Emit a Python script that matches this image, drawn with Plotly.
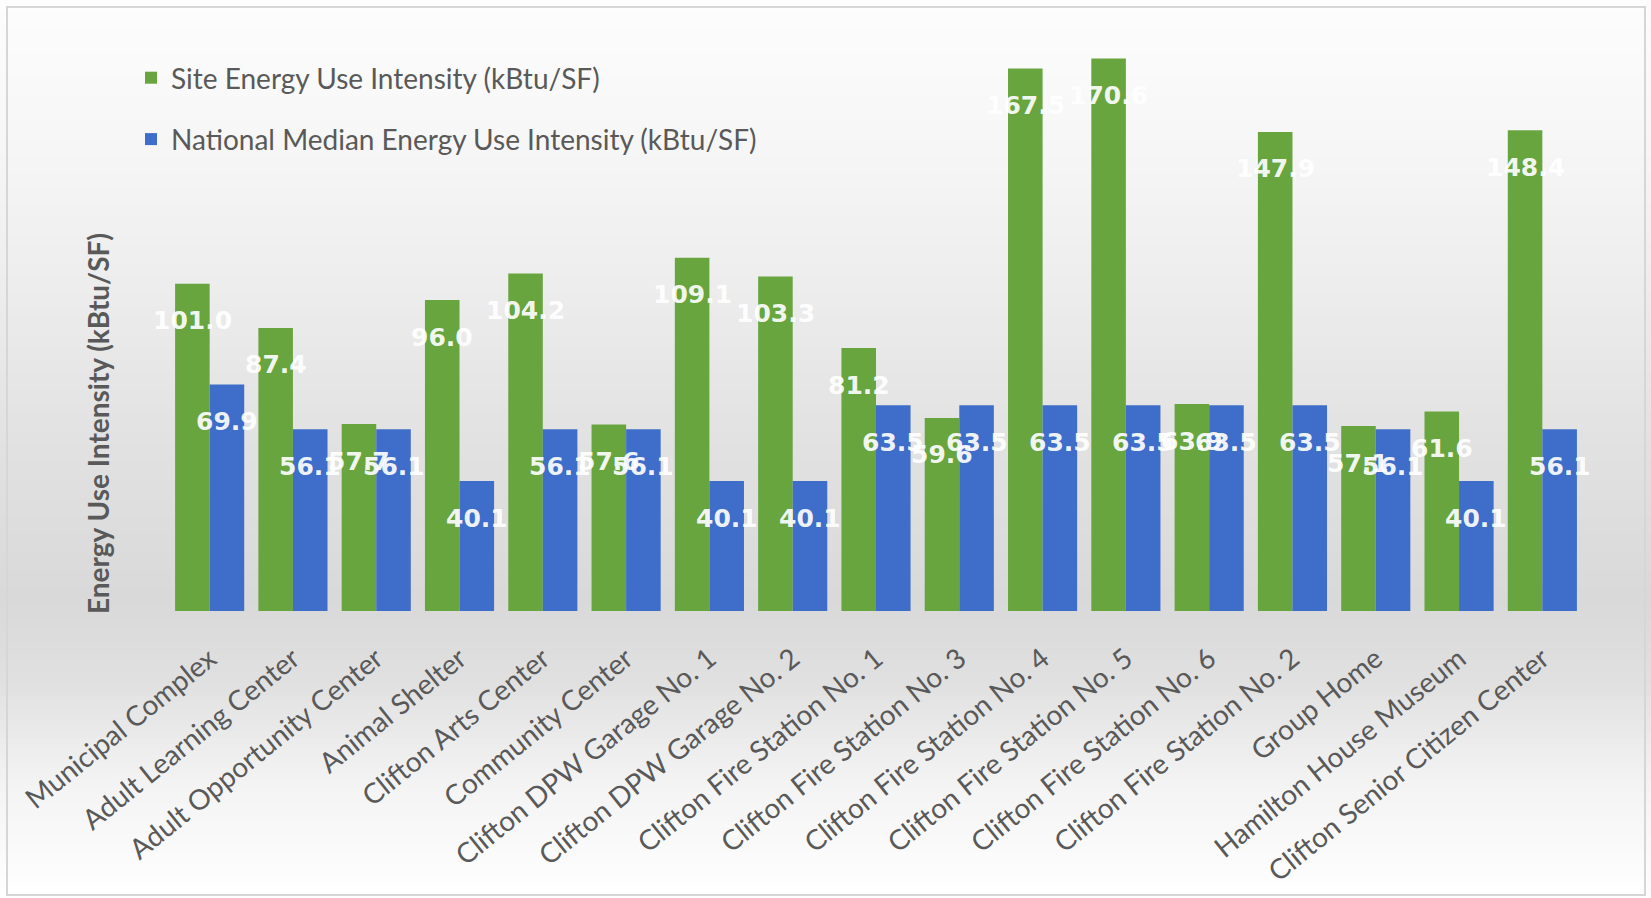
import plotly.graph_objects as go
import numpy as np

categories = [
    "Municipal Complex", "Adult Learning Center", "Adult Opportunity Center",
    "Animal Shelter", "Clifton Arts Center", "Community Center",
    "Clifton DPW Garage No. 1", "Clifton DPW Garage No. 2",
    "Clifton Fire Station No. 1", "Clifton Fire Station No. 3",
    "Clifton Fire Station No. 4", "Clifton Fire Station No. 5",
    "Clifton Fire Station No. 6", "Clifton Fire Station No. 2",
    "Group Home", "Hamilton House Museum", "Clifton Senior Citizen Center",
]
site_eui = [101.0, 87.4, 57.7, 96.0, 104.2, 57.6, 109.1, 103.3, 81.2, 59.6,
            167.5, 170.6, 63.9, 147.9, 57.1, 61.6, 148.4]
national_eui = [69.9, 56.1, 56.1, 40.1, 56.1, 56.1, 40.1, 40.1, 63.5, 63.5,
                63.5, 63.5, 63.5, 63.5, 56.1, 40.1, 56.1]

series_names = ["Site Energy Use Intensity (kBtu/SF)",
                "National Median Energy Use Intensity (kBtu/SF)"]
series_colors = ["#69A53F", "#3E6ECA"]

W, H = 1651, 898
L, R, T, B = 168, 1584, 28, 611


def px_x(p):
    return (p - L) / (R - L)


def px_y(p):
    return (B - p) / (B - T)


x = np.arange(len(categories))
bw = 0.415

fig = go.Figure()
for k, (vals, name, col) in enumerate(zip([site_eui, national_eui], series_names, series_colors)):
    fig.add_trace(go.Bar(
        x=x, y=vals, name=name, marker=dict(color=col, line=dict(width=0)),
        width=bw, offset=-bw if k == 0 else 0, legendgroup=f"g{k}",
        hoverinfo="x+y",
    ))

annotations = []
for k, vals in enumerate([site_eui, national_eui]):
    for i, v in enumerate(vals):
        annotations.append(dict(
            x=i + (-bw / 2 if k == 0 else bw / 2), y=v, xref="x", yref="y",
            text=f"{v:.1f}", showarrow=False, yanchor="middle", xanchor="center",
            yshift=-37,
            font=dict(family="DejaVu Sans", size=25, color="rgba(255,255,255,0.93)", weight="bold"),
        ))

annotations.append(dict(
    x=px_x(98), y=px_y(424), xref="paper", yref="paper",
    text="Energy Use Intensity (kBtu/SF)", textangle=-90, showarrow=False,
    xanchor="center", yanchor="middle",
    font=dict(family="Lato", size=28, color="#595959", weight="bold"),
))

# background gradient stripes
stops_py = [0, 150, 300, 450, 600, 680, 780, 898]
stops_val = [253, 246, 236, 225, 217, 224, 243, 255]
shapes = []
step = 6
for y0 in range(0, H, step):
    g = int(round(np.interp(y0 + step / 2, stops_py, stops_val)))
    shapes.append(dict(
        type="rect", xref="paper", yref="paper",
        x0=px_x(0), x1=px_x(W), y0=px_y(y0 + step + 0.5), y1=px_y(y0),
        fillcolor=f"rgb({g},{g},{g})", line=dict(width=0), layer="below",
    ))
shapes.append(dict(
    type="rect", xref="paper", yref="paper",
    x0=px_x(7), x1=px_x(1645), y0=px_y(895), y1=px_y(7),
    fillcolor="rgba(0,0,0,0)", line=dict(width=2, color="#d6d6d6"), layer="above",
))

fig.update_layout(
    width=W, height=H,
    margin=dict(l=L, r=W - R, t=T, b=H - B, pad=0),
    paper_bgcolor="white", plot_bgcolor="rgba(0,0,0,0)",
    barmode="overlay",
    showlegend=True,
    legend=dict(
        x=px_x(131), y=px_y(53), xanchor="left", yanchor="top",
        font=dict(family="Lato", size=28, color="#595959"),
        bgcolor="rgba(0,0,0,0)", tracegroupgap=22, traceorder="grouped",
        itemclick=False,
    ),
    xaxis=dict(
        range=[-0.5, len(categories) - 0.5],
        tickmode="array", tickvals=x, ticktext=categories, tickangle=-39,
        tickfont=dict(family="Lato", size=28, color="#595959"),
        showgrid=False, zeroline=False, showline=False, ticks="",
        ticklabelstandoff=25,
    ),
    yaxis=dict(range=[0, 180], showticklabels=False, showgrid=False,
               zeroline=False, showline=False, ticks=""),
    annotations=annotations,
    shapes=shapes,
)

fig.write_html("out.html")
